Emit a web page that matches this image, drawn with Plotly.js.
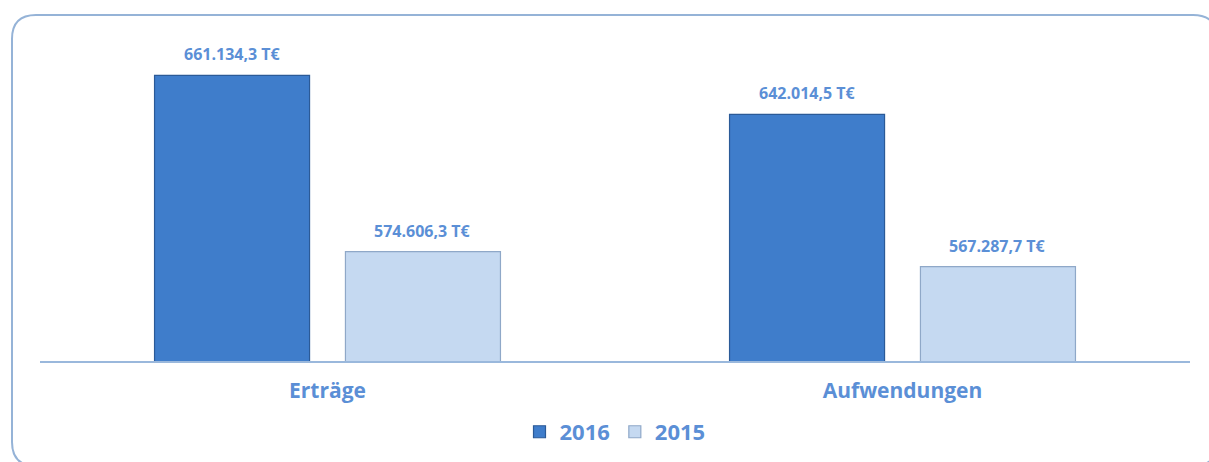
<!DOCTYPE html>
<html>
<head>
<meta charset="utf-8">
<script src="https://cdn.plot.ly/plotly-3.0.1.min.js"></script>
<style>
html,body{margin:0;padding:0;background:#fff;}
#chart{width:1209px;height:462px;}
</style>
</head>
<body>
<div id="chart"></div>
<script>
var categories = ["Erträge", "Aufwendungen"];
var seriesNames = ["2016", "2015"];
var values2016 = [661134.3, 642014.5];
var values2015 = [574606.3, 567287.7];

var W = 1209, H = 462;
var M = {l: 40, r: 19, t: 37, b: 101, autoexpand: false};
var bargap = 0.336;

function fmtDE(v) {
  var parts = v.toFixed(1).split(".");
  var intPart = parts[0].replace(/\B(?=(\d{3})+(?!\d))/g, ".");
  return intPart + "," + parts[1] + " T€";
}

var labelColor = "#5b8fd6";
var fontFam = "'Open Sans', 'DejaVu Sans', sans-serif";

var traces = [
  {
    type: "bar", name: seriesNames[0], x: categories, y: values2016,
    marker: {color: "#3f7dcb", line: {color: "#2b5a97", width: 1.2}},
    hoverinfo: "none"
  },
  {
    type: "bar", name: seriesNames[1], x: categories, y: values2015,
    marker: {color: "#c5d9f1", line: {color: "#8fa8c8", width: 1.2}},
    hoverinfo: "none"
  }
];

// value labels placed above each bar
var annotations = [];
var off = (1 - bargap) / 4;
[values2016, values2015].forEach(function (vals, si) {
  vals.forEach(function (v, ci) {
    annotations.push({
      x: ci + (si === 0 ? -off : off), y: v, xref: "x", yref: "y",
      text: fmtDE(v), showarrow: false, yanchor: "middle", yshift: 21,
      font: {family: fontFam, size: 16, color: labelColor, weight: 700}
    });
  });
});

// rounded frame in paper coordinates
var pw = W - M.l - M.r, ph = H - M.t - M.b;
function px(x) { return ((x - M.l) / pw).toFixed(5); }
function py(y) { return (1 - (y - M.t) / ph).toFixed(5); }
var fx0 = 12, fy0 = 15, fx1 = 1217, fy1 = 466, rad = 24;
var framePath =
  "M " + px(fx0 + rad) + "," + py(fy0) +
  " L " + px(fx1 - rad) + "," + py(fy0) +
  " Q " + px(fx1) + "," + py(fy0) + " " + px(fx1) + "," + py(fy0 + rad) +
  " L " + px(fx1) + "," + py(fy1 - rad) +
  " Q " + px(fx1) + "," + py(fy1) + " " + px(fx1 - rad) + "," + py(fy1) +
  " L " + px(fx0 + rad) + "," + py(fy1) +
  " Q " + px(fx0) + "," + py(fy1) + " " + px(fx0) + "," + py(fy1 - rad) +
  " L " + px(fx0) + "," + py(fy0 + rad) +
  " Q " + px(fx0) + "," + py(fy0) + " " + px(fx0 + rad) + "," + py(fy0) + " Z";

var layout = {
  width: W, height: H,
  margin: M,
  paper_bgcolor: "#ffffff", plot_bgcolor: "#ffffff",
  barmode: "group", bargap: bargap, bargroupgap: 0.188,
  showlegend: true,
  legend: {
    orientation: "h", x: 0.5, xanchor: "center", y: -0.219, yanchor: "middle",
    font: {family: fontFam, size: 22, color: labelColor, weight: 700},
    itemwidth: 30, tracegroupgap: 0
  },
  xaxis: {
    type: "category", range: [-0.5, 1.5], automargin: false,
    showline: true, linecolor: "#9ab8dc", linewidth: 2,
    showgrid: false, zeroline: false, ticks: "",
    tickfont: {family: fontFam, size: 21, color: labelColor, weight: 700},
    ticklabelstandoff: 10
  },
  yaxis: {
    range: [520900, 680000], visible: false, showgrid: false, zeroline: false
  },
  annotations: annotations,
  shapes: [{
    type: "path", xref: "paper", yref: "paper", path: framePath,
    line: {color: "#95b3d7", width: 2}, layer: "below"
  }]
};

Plotly.newPlot("chart", traces, layout, {displayModeBar: false, staticPlot: true});
</script>
</body>
</html>
